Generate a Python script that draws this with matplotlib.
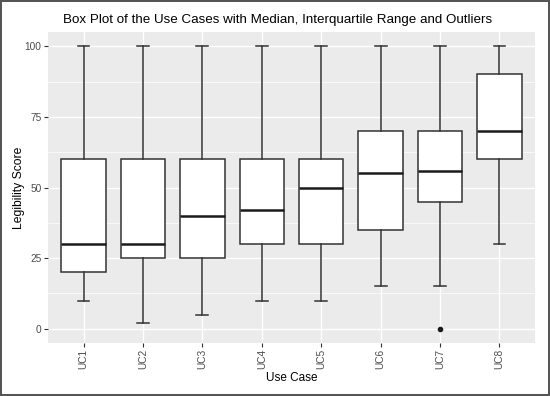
import matplotlib
matplotlib.use("Agg")
import matplotlib.pyplot as plt
from matplotlib.ticker import MultipleLocator

plt.rcParams['font.family'] = ['Liberation Sans', 'DejaVu Sans']

# Box plot summary values
use_cases = ["UC1", "UC2", "UC3", "UC4", "UC5", "UC6", "UC7", "UC8"]
whisker_low = [10, 2, 5, 10, 10, 15, 15, 30]
q1 = [20, 25, 25, 30, 30, 35, 45, 60]
median = [30, 30, 40, 42, 50, 55, 56, 70]
q3 = [60, 60, 60, 60, 60, 70, 70, 90]
whisker_high = [100, 100, 100, 100, 100, 100, 100, 100]
outliers = [[], [], [], [], [], [], [0], []]

stats = []
for i, name in enumerate(use_cases):
    stats.append({
        "label": name,
        "whislo": whisker_low[i],
        "q1": q1[i],
        "med": median[i],
        "q3": q3[i],
        "whishi": whisker_high[i],
        "fliers": outliers[i],
    })

fig = plt.figure(figsize=(5.5, 3.96), dpi=100, linewidth=1.5, edgecolor="#555555")
ax = fig.add_axes([0.087, 0.134, 0.886, 0.785])
ax.set_facecolor("#EBEBEB")

positions = list(range(1, len(use_cases) + 1))
ax.bxp(stats, positions=positions, widths=0.75, patch_artist=True,
       capwidths=0.2,
       boxprops=dict(facecolor="white", edgecolor="#333333", linewidth=1.1),
       whiskerprops=dict(color="#333333", linewidth=1.1),
       capprops=dict(color="#333333", linewidth=1.1),
       medianprops=dict(color="#1a1a1a", linewidth=1.8),
       flierprops=dict(marker="o", markerfacecolor="#1a1a1a",
                       markeredgecolor="#1a1a1a", markersize=3),
       zorder=3)

ax.set_xlim(0.4, len(use_cases) + 0.6)
ax.set_ylim(-5, 105)
ax.yaxis.set_major_locator(MultipleLocator(25))
ax.yaxis.set_minor_locator(MultipleLocator(12.5))
ax.set_xticks(positions)
ax.set_xticklabels(use_cases, rotation=90)

ax.grid(True, which="major", color="white", linewidth=1.0, zorder=0)
ax.grid(True, which="minor", axis="y", color="white", linewidth=0.5, zorder=0)
ax.set_axisbelow(True)
for s in ax.spines.values():
    s.set_visible(False)

ax.tick_params(axis="both", which="major", length=3, color="#333333",
               labelcolor="#4D4D4D", labelsize=7.3, width=0.8, pad=1.5)
ax.tick_params(axis="y", which="minor", length=0)

ax.set_xlabel("Use Case", fontsize=8.5, labelpad=2)
ax.set_ylabel("Legibility Score", fontsize=8.7, labelpad=0)
fig.suptitle("Box Plot of the Use Cases with Median, Interquartile Range and Outliers",
             x=0.505, y=0.965, fontsize=9.6)

fig.savefig("out.png", dpi=100)
